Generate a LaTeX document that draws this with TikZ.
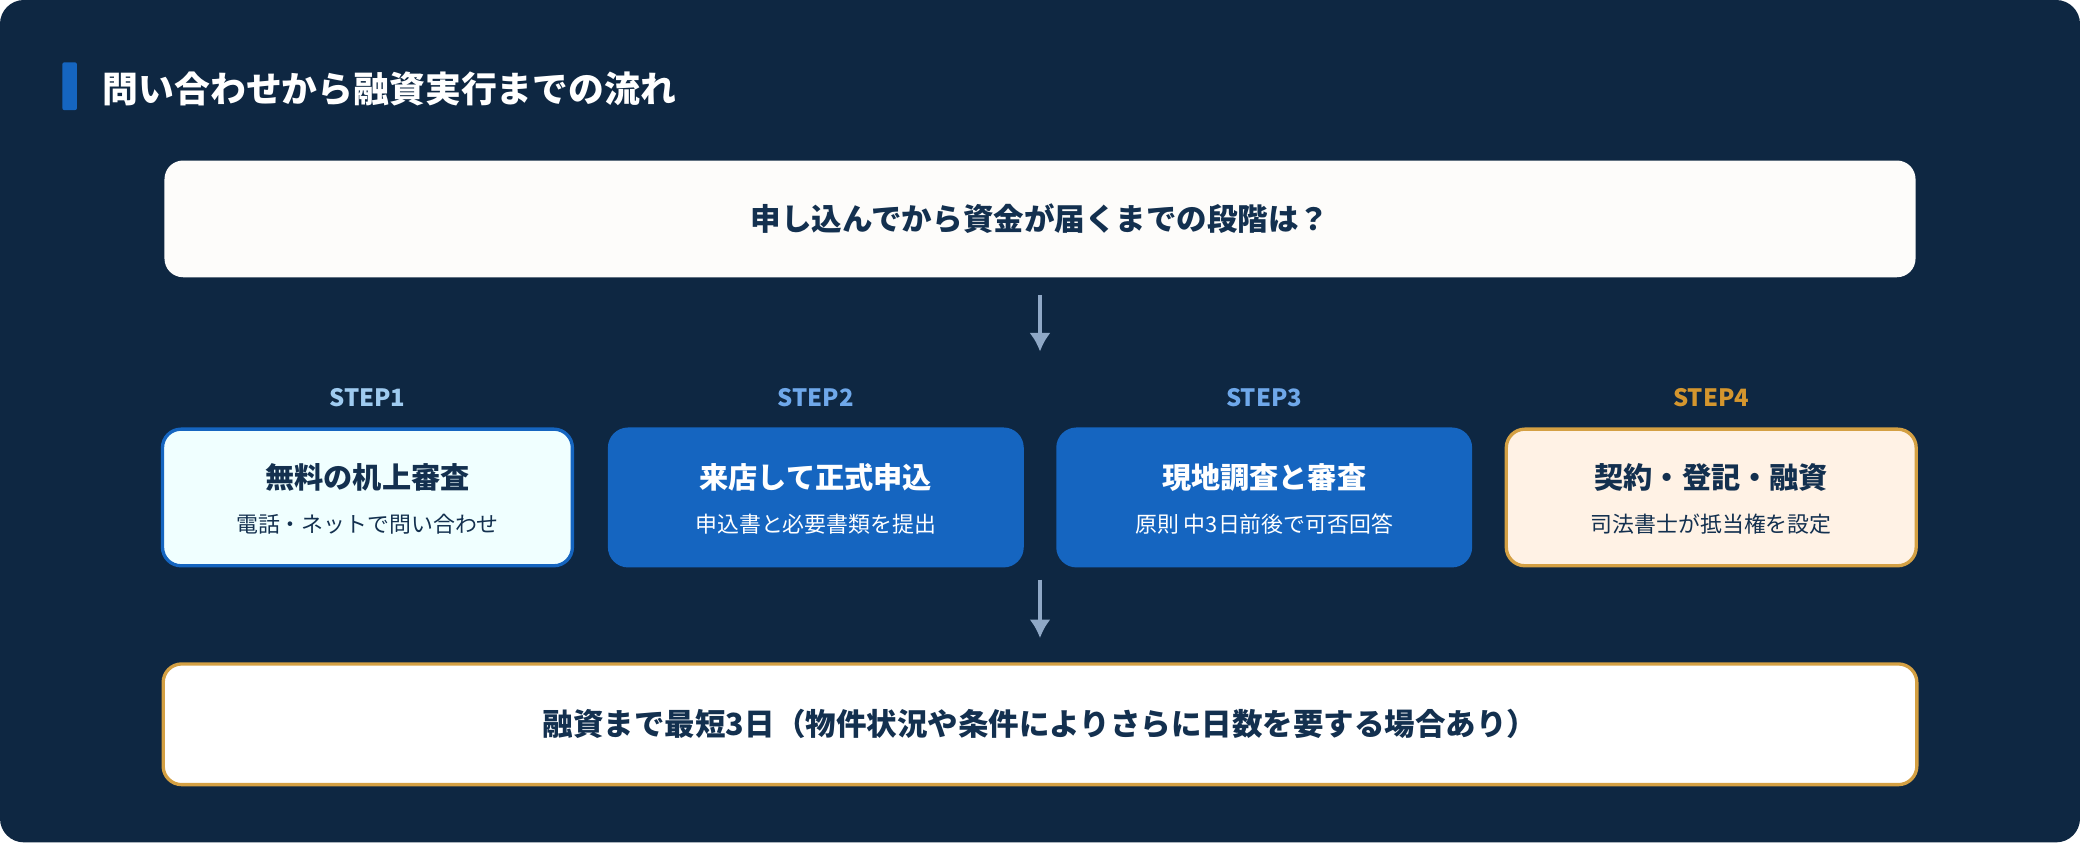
\documentclass[tikz,border=0pt]{standalone}
\usepackage{fontspec}
\setmainfont{Noto Sans CJK JP}
\begin{document}
\begin{tikzpicture}[x=1pt,y=-1pt,
 box/.style={rounded corners=14pt,line width=2.5pt},
 arr/.style={draw=arrc,line width=2.5pt,-{Latex[length=14pt,width=16pt]}},
 ttl/.style={font=\fontsize{22}{26}\selectfont\bfseries},
 sub/.style={font=\fontsize{16.5}{20}\selectfont},
 stp/.style={font=\fontsize{18}{22}\selectfont\bfseries}]
\definecolor{bg}{HTML}{0E2742}
\definecolor{navy}{HTML}{13304F}
\definecolor{blu}{HTML}{1565C0}
\definecolor{arrc}{HTML}{8FA8C6}
\definecolor{gold}{HTML}{D4A043}
\usetikzlibrary{arrows.meta}
\useasboundingbox (0,0) rectangle (1568,635);
\fill[bg,rounded corners=18pt] (0,0) rectangle (1568,635);
\fill[blu,rounded corners=1.5pt] (47,47) rectangle (58,83);
\node[anchor=west,white,font=\fontsize{27}{32}\selectfont\bfseries] (title) at (74,67) {問い合わせから融資実行までの流れ};
\node[box,fill=white!94!brown!40,draw=none,minimum width=1320pt,minimum height=88pt,text=navy,font=\fontsize{23}{28}\selectfont\bfseries] (q) at (784,165) {申し込んでから資金が届くまでの段階は？};
\coordinate (a1) at (784,265);
\draw[arr] (q.south)++(0,12) -- (a1);
\foreach \i/\x/\c in {1/277/9FCBF0,2/615/6FA8EA,3/953/6FA8EA,4/1290/D4962E}{
 \definecolor{sc}{HTML}{\c}
 \node[stp,text=sc] (s\i) at (\x,300) {STEP\i};}
\node[box,fill=blue!3!cyan!6,draw=blu,minimum width=309pt,minimum height=103pt] (b1) at (277,375) {};
\node[box,fill=blu,draw=blu,minimum width=311pt,minimum height=103pt] (b2) at (615,375) {};
\node[box,fill=blu,draw=blu,minimum width=311pt,minimum height=103pt] (b3) at (953,375) {};
\node[box,fill=orange!10!white,draw=gold,minimum width=309pt,minimum height=103pt] (b4) at (1290,375) {};
\node[ttl,text=navy] (t1) at (277,360) {無料の机上審査};
\node[sub,text=navy] (u1) at (277,395) {電話・ネットで問い合わせ};
\node[ttl,text=white] (t2) at (615,360) {来店して正式申込};
\node[sub,text=white] (u2) at (615,395) {申込書と必要書類を提出};
\node[ttl,text=white] (t3) at (953,360) {現地調査と審査};
\node[sub,text=white] (u3) at (953,395) {原則 中3日前後で可否回答};
\node[ttl,text=navy] (t4) at (1290,360) {契約・登記・融資};
\node[sub,text=navy] (u4) at (1290,395) {司法書士が抵当権を設定};
\node[box,fill=white,draw=gold,minimum width=1322pt,minimum height=91pt,text=navy,font=\fontsize{23}{28}\selectfont\bfseries] (f) at (784,546) {融資まで最短3日（物件状況や条件によりさらに日数を要する場合あり）};
\coordinate (a2t) at (784,437);
\draw[arr] (a2t) -- (f.north|-0,481);
\end{tikzpicture}
\end{document}
